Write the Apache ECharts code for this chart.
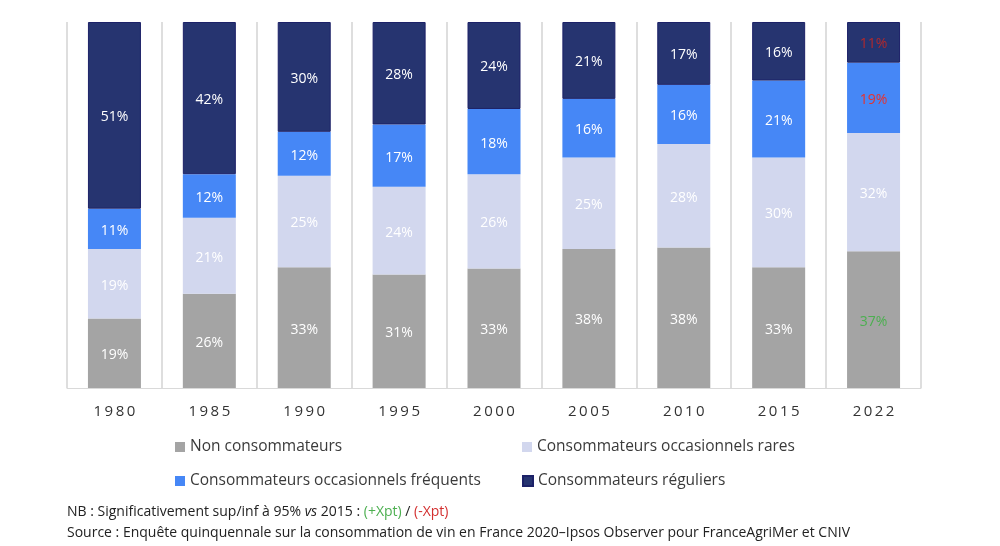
<!DOCTYPE html>
<html><head><meta charset="utf-8">
<script src="https://cdn.jsdelivr.net/npm/echarts@6/dist/echarts.min.js"></script>
<style>html,body{margin:0;padding:0;background:#fff}#c{width:1000px;height:546px}</style>
</head><body><div id="c"></div>
<script>
const years = ['1980','1985','1990','1995','2000','2005','2010','2015','2022'];
const nonConso = [19,26,33,31,33,38,38,33,37];
const rares = [19,21,25,24,26,25,28,30,32];
const frequents = [11,12,12,17,18,16,16,21,19];
const reguliers = [51,42,30,28,24,21,17,16,11];
const seriesNames = ['Non consommateurs','Consommateurs occasionnels rares','Consommateurs occasionnels fréquents','Consommateurs réguliers'];
// significance vs 2015: 1 = higher (green), -1 = lower (red)
const signif2022 = [1,0,-1,-1];

const colors = ['#a4a4a4','#d2d7ee','#4687f6','#263470'];
const all = [nonConso, rares, frequents, reguliers];
const totals = years.map((y,i)=>all.reduce((s,a)=>s+a[i],0));

const FONT = 'Open Sans';
const series = all.map((arr,si)=>({
  name: seriesNames[si],
  type: 'bar',
  stack: 'tot',
  barWidth: 53,
  itemStyle: {color: colors[si], borderColor: si===3 ? '#1c2168' : colors[si], borderWidth: si===3?1:0},
  data: arr.map((v,i)=>{
    const item = {value: v/totals[i]*100, raw: v};
    if (i === years.length-1 && signif2022[si] !== 0) {
      item.label = {color: signif2022[si] > 0 ? '#4caf50' : (si===3 ? '#b3282b' : '#e8312c')};
    }
    return item;
  }),
  label: {show: true, position: 'inside', offset: [0, 2], color: '#ffffff', fontFamily: FONT, fontSize: 14,
    formatter: p => p.data.raw + '%'}
}));

const chart = echarts.init(document.getElementById('c'));
const legendBase = {itemWidth: 10, itemHeight: 10, icon: 'rect', textStyle: {fontFamily: FONT, fontSize: 15.5, color: '#3a3a3a'}, itemGap: 5, selectedMode: false};
chart.setOption({
  animation: false,
  grid: {left: 67, right: 79, top: 22, bottom: 158},
  xAxis: {type: 'category', data: years,
    axisLine: {lineStyle: {color: '#d9d9d9'}}, axisTick: {show: false},
    splitLine: {show: true, lineStyle: {color: '#dedede', width: 2}},
    axisLabel: {margin: 16, fontFamily: FONT, fontSize: 15, color: '#333',
      formatter: v => v.split('').join('\u2009')}},
  yAxis: {type: 'value', min: 0, max: 100, show: false},
  legend: [
    Object.assign({}, legendBase, {data: [seriesNames[0]], left: 170, top: 434}),
    Object.assign({}, legendBase, {data: [seriesNames[1]], left: 517, top: 434}),
    Object.assign({}, legendBase, {data: [seriesNames[2]], left: 170, top: 468}),
    Object.assign({}, legendBase, {data: [seriesNames[3]], left: 517, top: 468})
  ],
  graphic: [
    {type: 'text', left: 67, top: 505, style: {
      text: 'NB : Significativement sup/inf à 95% {i|vs} 2015 : {g|(+Xpt)} / {r|(-Xpt)}',
      font: '14px ' + FONT, fill: '#222',
      rich: {i: {fontStyle: 'italic', fontFamily: FONT, fontSize: 14, fill: '#222'},
             g: {fill: '#4caf50', fontFamily: FONT, fontSize: 14},
             r: {fill: '#d32f2f', fontFamily: FONT, fontSize: 14}}}},
    {type: 'text', left: 67, top: 526, style: {
      text: 'Source : Enquête quinquennale sur la consommation de vin en France 2020–Ipsos Observer pour FranceAgriMer et CNIV',
      font: '14px ' + FONT, fill: '#222'}}
  ],
  series: series
});
</script></body></html>
